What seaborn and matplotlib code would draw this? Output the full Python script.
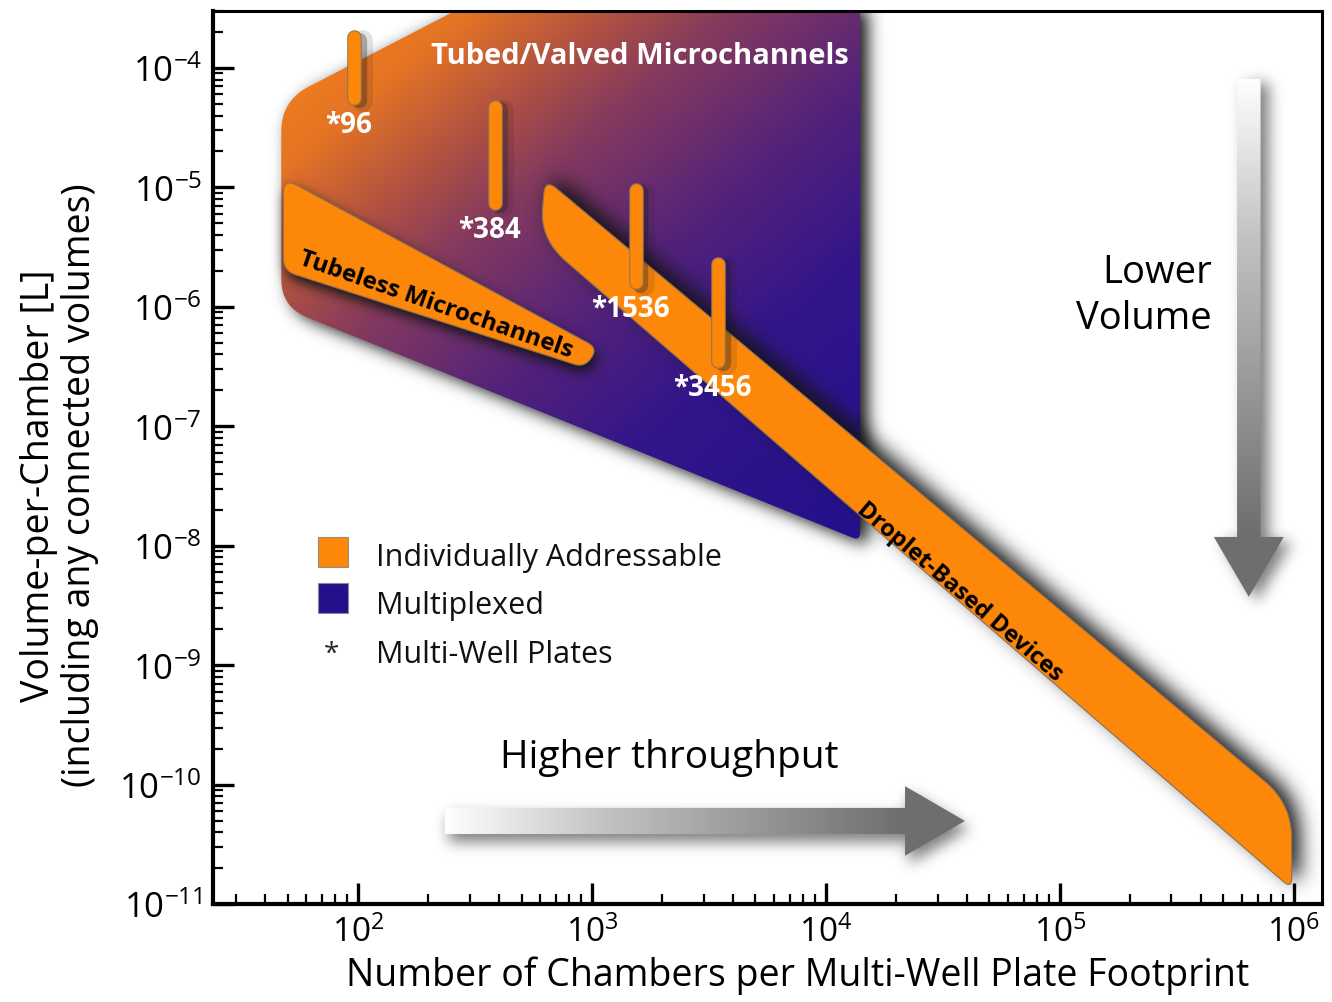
import numpy as np
import pandas as pd
import matplotlib
matplotlib.use("Agg")
import matplotlib.pyplot as plt
import matplotlib.patheffects as pe
from matplotlib.colors import LinearSegmentedColormap, to_rgb
from matplotlib.patches import Polygon, Rectangle
from matplotlib.path import Path
from matplotlib.ticker import FixedLocator, LogLocator, NullFormatter
import seaborn as sns

# ---------------- data ----------------
# region outlines: chambers per plate footprint (x), volume per chamber in L (y)
tubed_chambers = [47, 480, 14000, 14000, 47]
tubed_volume = [5.3e-5, 5.6e-4, 5.6e-4, 1.1e-8, 1.0e-6]

tubeless_chambers = [48, 1060, 930, 48]
tubeless_volume = [1.2e-5, 4.5e-7, 3.1e-7, 2.0e-6]

droplet_chambers = [630, 9.8e5, 9.8e5, 600]
droplet_volume = [1.18e-5, 6.9e-11, 1.34e-11, 3.7e-6]

# multi-well plates: wells per plate and volume range per well
plate_wells = [96, 384, 1536, 3456]
plate_vol_top = [1.8e-4, 4.7e-5, 9.5e-6, 2.3e-6]
plate_vol_bottom = [5.6e-5, 7.4e-6, 1.6e-6, 3.5e-7]

x_ticks = [1e2, 1e3, 1e4, 1e5, 1e6]
y_ticks = [1e-11, 1e-10, 1e-9, 1e-8, 1e-7, 1e-6, 1e-5, 1e-4]
legend_labels = ['Individually Addressable', 'Multiplexed', 'Multi-Well Plates']

ORANGE = '#FD8709'
INDIGO = '#24108A'
GREY = '#6E6E6E'


def rounded(ax, xs, ys, radii, steps=16):
    # round polygon corners in screen space (radii in points)
    pts = ax.transData.transform(np.column_stack([xs, ys]))
    k = ax.figure.dpi / 72.0
    out = []
    n = len(pts)
    for i in range(n):
        p, a, b = pts[i], pts[i - 1], pts[(i + 1) % n]
        r = radii[i] * k
        if r <= 0:
            out.append(p)
            continue
        da, db = a - p, b - p
        la, lb = np.hypot(*da), np.hypot(*db)
        p0 = p + da / la * min(r, la / 2)
        p2 = p + db / lb * min(r, lb / 2)
        t = np.linspace(0, 1, steps)[:, None]
        out.extend((1 - t) ** 2 * p0 + 2 * (1 - t) * t * p + t ** 2 * p2)
    return ax.transData.inverted().transform(np.array(out))


def gblur(a, s):
    pad = int(3 * s) + 2
    a = np.pad(a, pad)
    fy = np.fft.fftfreq(a.shape[0])[:, None]
    fx = np.fft.rfftfreq(a.shape[1])[None, :]
    k = np.exp(-2 * (np.pi * s) ** 2 * (fx ** 2 + fy ** 2))
    b = np.fft.irfft2(np.fft.rfft2(a) * k, s=a.shape)
    return b[pad:-pad, pad:-pad]


def soft_shadow(ax, verts, trans, dx, dy, sigma, strength, z, color='#141414'):
    # blurred drop shadow drawn as an image over the whole axes
    x0, y0 = ax.bbox.x0, ax.bbox.y0
    W, H = int(round(ax.bbox.width)), int(round(ax.bbox.height))
    p = trans.transform(np.asarray(verts)) - [x0, y0] + [dx, dy]
    gx, gy = np.meshgrid(np.arange(W) + 0.5, np.arange(H) + 0.5)
    m = Path(p).contains_points(np.column_stack([gx.ravel(), gy.ravel()])).reshape(H, W)
    a = np.clip(gblur(m.astype(float), sigma), 0, 1) * strength
    rgba = np.zeros((H, W, 4))
    rgba[..., :3] = to_rgb(color)
    rgba[..., 3] = a
    ax.imshow(rgba, extent=(0, 1, 0, 1), transform=ax.transAxes, origin='lower',
              aspect='auto', interpolation='bilinear', zorder=z)


def gradient_image(ax, t, cmap, clip, z):
    im = ax.imshow(cmap(np.clip(t, 0, 1)), extent=(0, 1, 0, 1), transform=ax.transAxes,
                   aspect='auto', interpolation='bilinear', zorder=z)
    im.set_clip_path(clip)
    return im


sns.set_theme(style='ticks')
plt.rcParams['font.family'] = ['Open Sans', 'DejaVu Sans']
plt.rcParams['mathtext.default'] = 'regular'

fig = plt.figure(figsize=(13.32, 10.03), dpi=100)
ax = fig.add_axes([0.15991, 0.09771, 0.83258, 0.89033])
ax.set_facecolor('white')
ax.set_xscale('log')
ax.set_yscale('log')
ax.set_xlim(24, 1.32e6)
ax.set_ylim(1e-11, 3.0e-4)
ax.set_autoscale_on(False)

# axis frame and ticks
for side in ['left', 'bottom']:
    ax.spines[side].set_linewidth(3)
for side in ['top', 'right']:
    ax.spines[side].set_linewidth(2.2)
for s in ax.spines.values():
    s.set_color('black')
ax.xaxis.set_major_locator(FixedLocator(x_ticks))
ax.yaxis.set_major_locator(FixedLocator(y_ticks))
for axis in [ax.xaxis, ax.yaxis]:
    axis.set_minor_locator(LogLocator(10, subs=np.arange(2, 10), numticks=20))
    axis.set_minor_formatter(NullFormatter())
ax.tick_params(which='major', direction='in', length=15, width=2.4, colors='black')
ax.tick_params(axis='y', which='major', labelsize=25, pad=8)
ax.tick_params(axis='x', which='major', labelsize=24, pad=8)
ax.tick_params(which='minor', direction='in', length=7, width=1.6, colors='black')
ax.tick_params(which='both', top=False, right=False)

AW, AH = ax.bbox.width, ax.bbox.height
H, W = 450, 560
U = ((np.arange(W) + 0.5) / W)[None, :] * np.ones((H, 1))
V = ((np.arange(H) + 0.5) / H)[:, None] * np.ones((1, W))  # 0 at top

# --- tubed / valved (multiplexed) region with orange -> indigo gradient ---
tubed_xy = rounded(ax, tubed_chambers, tubed_volume, [22, 0, 0, 6, 20])
soft_shadow(ax, tubed_xy, ax.transData, 8, -5, 8, 1.0, 1.5)
tubed_patch = Polygon(tubed_xy, closed=True, fc='none', ec='none', zorder=2)
ax.add_patch(tubed_patch)
mux_cmap = LinearSegmentedColormap.from_list('mux', [
    (0.0, '#F5841A'), (0.15, '#E57424'), (0.28, '#AE5043'), (0.38, '#843A5E'),
    (0.56, '#53227A'), (0.74, '#32158A'), (1.0, '#25108C')])
d = np.array([1.0, 1.18])
sx, sy = 0.062 * AW, 0.009 * AH
ex, ey = 0.574 * AW, 0.580 * AH
t_mux = ((U * AW - sx) * d[0] + (V * AH - sy) * d[1]) / ((ex - sx) * d[0] + (ey - sy) * d[1])
gradient_image(ax, t_mux, mux_cmap, tubed_patch, 2)

# --- tubeless microchannels band ---
tubeless_xy = rounded(ax, tubeless_chambers, tubeless_volume, [11, 8, 8, 9])
soft_shadow(ax, tubeless_xy, ax.transData, 3, -7, 6, 1.0, 3)
ax.add_patch(Polygon(tubeless_xy, closed=True, fc=ORANGE, ec='#8a7058', lw=0.8, zorder=4))

# --- droplet-based devices band ---
droplet_xy = rounded(ax, droplet_chambers, droplet_volume, [11, 25, 8, 25])
soft_shadow(ax, droplet_xy, ax.transData, 8, 4, 10, 1.0, 5)
ax.add_patch(Polygon(droplet_xy, closed=True, fc=ORANGE, ec='#8a7058', lw=0.8, zorder=6))

# --- multi-well plates ---
plates = pd.DataFrame({
    'wells': plate_wells + plate_wells,
    'volume': plate_vol_top + plate_vol_bottom,
    'plate': [str(w) for w in plate_wells] * 2,
})
sns.lineplot(data=plates, x='wells', y='volume', units='plate', estimator=None, sort=False,
             color=ORANGE, lw=9, solid_capstyle='round', legend=False, ax=ax, zorder=9,
             path_effects=[pe.SimpleLineShadow(offset=(6, -2), shadow_color='k', alpha=0.12, linewidth=15),
                           pe.SimpleLineShadow(offset=(3.5, -1.5), shadow_color='k', alpha=0.3, linewidth=11),
                           pe.Stroke(linewidth=10.5, foreground='#8c7560'), pe.Normal()])
for w, vb in zip(plate_wells, plate_vol_bottom):
    ax.annotate(f'*{w}', xy=(w, vb), xytext=(-4, -19), textcoords='offset points',
                ha='center', va='center', color='white', fontsize=20, fontweight='bold', zorder=10)

# region labels
ax.text(1600, 1.26e-4, 'Tubed/Valved Microchannels', color='white', fontsize=21,
        fontweight='bold', ha='center', va='center', zorder=10)
ax.text(215, 1.05e-6, 'Tubeless Microchannels', color='black', fontsize=17.5, fontweight='bold',
        ha='center', va='center', rotation=-19, rotation_mode='anchor', zorder=10)
ax.text(37400, 4.2e-9, 'Droplet-Based Devices', color='black', fontsize=17, fontweight='bold',
        ha='center', va='center', rotation=-40.5, rotation_mode='anchor', zorder=10)

# --- trend arrows (axes fraction) ---
arrow_cmap = LinearSegmentedColormap.from_list('arr', [(0, '#FFFFFF'), (0.35, '#C2C2C2'), (1, GREY)])
hx0, hxh, hx1, hyc, hw, hh = 0.209, 0.624, 0.678, 0.093, 0.0146, 0.039
h_arrow = [(hx0, hyc - hw), (hxh, hyc - hw), (hxh, hyc - hh), (hx1, hyc),
           (hxh, hyc + hh), (hxh, hyc + hw), (hx0, hyc + hw)]
soft_shadow(ax, h_arrow, ax.transAxes, 4, -8, 7, 0.55, 2.2)
h_patch = Polygon(h_arrow, closed=True, fc='none', ec='none', transform=ax.transAxes, zorder=2.5)
ax.add_patch(h_patch)
gradient_image(ax, (U - hx0) / (hxh - hx0), arrow_cmap, h_patch, 2.6)

vxc, vy0, vyh, vy1, vw, vh = 0.934, 0.924, 0.411, 0.344, 0.0106, 0.0315
v_arrow = [(vxc - vw, vy0), (vxc - vw, vyh), (vxc - vh, vyh), (vxc, vy1),
           (vxc + vh, vyh), (vxc + vw, vyh), (vxc + vw, vy0)]
soft_shadow(ax, v_arrow, ax.transAxes, 8, -5, 7, 0.55, 2.2)
v_patch = Polygon(v_arrow, closed=True, fc='none', ec='none', transform=ax.transAxes, zorder=2.5)
ax.add_patch(v_patch)
gradient_image(ax, (vy0 - (1 - V)) / (vy0 - vyh), arrow_cmap, v_patch, 2.6)

ax.text(0.411, 0.153, 'Higher throughput', transform=ax.transAxes, fontsize=28,
        ha='center', va='baseline', color='black', zorder=10)
ax.text(0.901, 0.682, 'Lower\nVolume', transform=ax.transAxes, fontsize=27.5,
        ha='right', va='center', linespacing=1.3, color='black', zorder=10)

# --- legend ---
ax.add_patch(Rectangle((0.0947, 0.377), 0.0271, 0.0336, transform=ax.transAxes,
                       fc=ORANGE, ec='#9a8a7a', lw=0.8, zorder=10))
ax.add_patch(Rectangle((0.0947, 0.3255), 0.0271, 0.0336, transform=ax.transAxes,
                       fc=INDIGO, ec='#8a8a9a', lw=0.8, zorder=10))
ax.text(0.107, 0.272, '*', transform=ax.transAxes, fontsize=20, ha='center', va='baseline', zorder=10)
for lab, yb in zip(legend_labels, [0.3797, 0.3259, 0.2710]):
    ax.text(0.147, yb, lab, transform=ax.transAxes, fontsize=22, ha='left', va='baseline',
            color='#111111', zorder=10)

# axis labels
ax.set_xlabel('Number of Chambers per Multi-Well Plate Footprint', fontsize=27, color='black')
ax.set_ylabel('Volume-per-Chamber [L]\n(including any connected volumes)', fontsize=27,
              color='black', linespacing=1.1)
ax.xaxis.set_label_coords(0.527, -0.057)
ax.yaxis.set_label_coords(-0.103, 0.47)

fig.savefig('out.png', dpi=100)
